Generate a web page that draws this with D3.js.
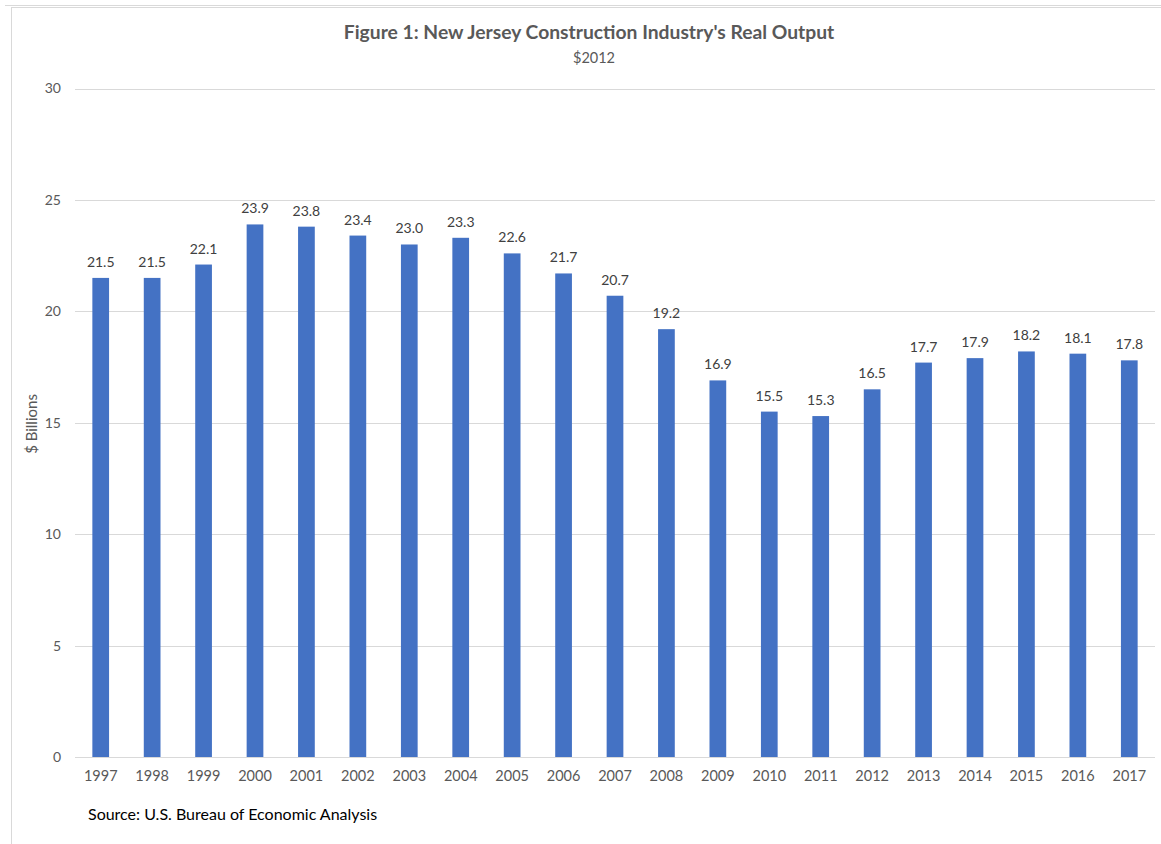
<!DOCTYPE html>
<html>
<head>
<meta charset="utf-8">
<script src="https://cdn.jsdelivr.net/npm/d3@7"></script>
<style>
  body { margin: 0; background: #fff; }
  text { font-family: Lato, "Open Sans", sans-serif; }
</style>
</head>
<body>
<svg id="barChart" width="1161" height="844"></svg>
<script>
var years = ["1997", "1998", "1999", "2000", "2001", "2002", "2003", "2004", "2005", "2006", "2007",
    "2008", "2009", "2010", "2011", "2012", "2013", "2014", "2015", "2016", "2017"];
var output = [21.5, 21.5, 22.1, 23.9, 23.8, 23.4, 23.0, 23.3, 22.6, 21.7, 20.7,
    19.2, 16.9, 15.5, 15.3, 16.5, 17.7, 17.9, 18.2, 18.1, 17.8];
var yTicks = [0, 5, 10, 15, 20, 25, 30];

var svg = d3.select("#barChart"),
    width = +svg.attr("width"),
    height = +svg.attr("height");

// outer frames
svg.append("line").attr("x1", 5).attr("x2", width).attr("y1", 5.5).attr("y2", 5.5).attr("stroke", "#d9d9d9");
svg.append("rect").attr("x", 11.5).attr("y", 7.5).attr("width", width).attr("height", height)
    .attr("fill", "none").attr("stroke", "#d9d9d9");

var x = d3.scaleBand()
    .domain(years)
    .range([75, 1155])
    .paddingInner(0.675)
    .paddingOuter(0.3375);

var y = d3.scaleLinear()
    .domain([0, 30])
    .range([757, 88.5]);

// gridlines
svg.append("g")
    .selectAll("line")
    .data(yTicks)
    .enter()
    .append("line")
    .attr("x1", 75)
    .attr("x2", 1155)
    .attr("y1", function(d) { return Math.round(y(d)) + 0.5; })
    .attr("y2", function(d) { return Math.round(y(d)) + 0.5; })
    .attr("stroke", "#d9d9d9")
    .attr("stroke-width", 1);

// y axis labels
var yAxis = d3.axisLeft(y).tickValues(yTicks).tickSize(0).tickPadding(0);
var yG = svg.append("g").attr("transform", "translate(61,0)").call(yAxis);
yG.select(".domain").remove();
yG.selectAll("text").attr("fill", "#595959").style("font-size", "14px").style("font-family", "Lato, sans-serif");

// bars
svg.append("g")
    .selectAll("rect")
    .data(output)
    .enter()
    .append("rect")
    .attr("x", function(d, i) { return x(years[i]); })
    .attr("y", function(d) { return y(d); })
    .attr("width", x.bandwidth())
    .attr("height", function(d) { return y(0) - y(d); })
    .attr("fill", "#4472c4");

// value labels
svg.append("g")
    .selectAll("text")
    .data(output)
    .enter()
    .append("text")
    .attr("x", function(d, i) { return x(years[i]) + x.bandwidth() / 2; })
    .attr("y", function(d) { return y(d) - 11; })
    .attr("text-anchor", "middle")
    .attr("fill", "#404040")
    .style("font-size", "14px")
    .text(function(d) { return d.toFixed(1); });

// x axis labels
var xAxis = d3.axisBottom(x).tickSize(0).tickPadding(0);
var xG = svg.append("g").attr("transform", "translate(0,771)").call(xAxis);
xG.select(".domain").remove();
xG.selectAll("text").attr("fill", "#595959").style("font-size", "14.5px").style("font-family", "Lato, sans-serif");

// y axis title
svg.append("text")
    .attr("transform", "translate(37,424) rotate(-90)")
    .attr("text-anchor", "middle")
    .attr("fill", "#595959")
    .style("font-size", "15px")
    .text("$ Billions");

// title
svg.append("text")
    .attr("x", 589)
    .attr("y", 39)
    .attr("text-anchor", "middle")
    .attr("fill", "#595959")
    .style("font-size", "19.3px")
    .style("font-weight", "bold")
    .text("Figure 1: New Jersey Construction Industry's Real Output");

svg.append("text")
    .attr("x", 594)
    .attr("y", 63)
    .attr("text-anchor", "middle")
    .attr("fill", "#595959")
    .style("font-size", "14.5px")
    .text("$2012");

// source
svg.append("text")
    .attr("x", 88)
    .attr("y", 820)
    .attr("fill", "#000")
    .style("font-size", "16px")
    .text("Source: U.S. Bureau of Economic Analysis");
</script>
</body>
</html>
